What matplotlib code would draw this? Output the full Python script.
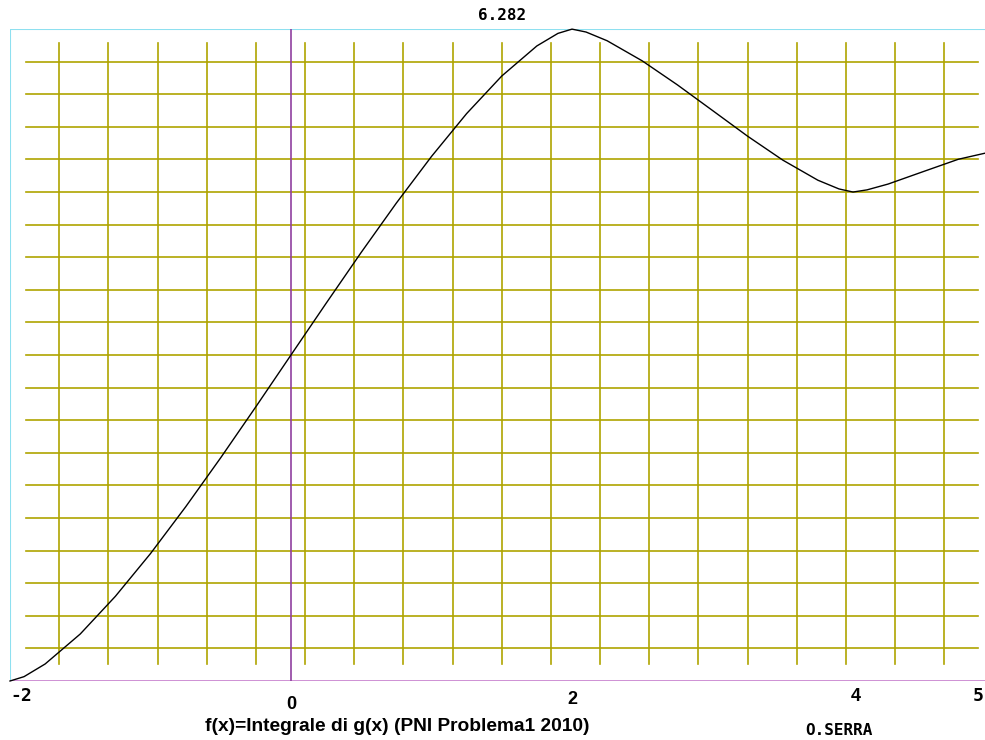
import matplotlib
matplotlib.use("Agg")
import matplotlib.pyplot as plt

# f(x), x from -2 to 5
xs = [-2, -1.9, -1.75, -1.5, -1.25, -1, -0.75, -0.5, -0.25, 0,
      0.25, 0.5, 0.75, 1, 1.25, 1.5, 1.75, 1.9, 2, 2.1,
      2.25, 2.5, 2.75, 3, 3.25, 3.5, 3.75, 3.9, 4, 4.1,
      4.25, 4.5, 4.75, 5]
ys = [0, 0.042, 0.164, 0.453, 0.816, 1.228, 1.678, 2.152, 2.643, 3.142,
      3.640, 4.131, 4.606, 5.055, 5.468, 5.830, 6.120, 6.241, 6.282, 6.254,
      6.170, 5.976, 5.745, 5.498, 5.250, 5.020, 4.826, 4.742, 4.712, 4.733,
      4.789, 4.909, 5.028, 5.105]

tick_vals = [-2, 0, 2, 4, 5]
tick_labels = ["-2", "0", "2", "4", "5"]
title = "f(x)=Integrale di g(x) (PNI Problema1 2010)"
author = "O.SERRA"

W, H = 985, 740
fig = plt.figure(figsize=(W / 100, H / 100), dpi=100)
ax = fig.add_axes([10 / W, 59 / H, 983.5 / W, 652 / H])
xmin, xmax = -2, 5
ymin, ymax = 0, 6.2832
ax.set_xlim(xmin, xmax)
ax.set_ylim(ymin, ymax)
ax.axis("off")

grid_col = "#afa400"
ndiv = 20
dx = (xmax - xmin) / ndiv
dy = (ymax - ymin) / ndiv
xin = 16 / 140.5
ytop_in = 14 / 103.8
ybot_in = 17 / 103.8
for k in range(1, ndiv):
    ax.plot([xmin + k * dx] * 2, [ymin + ybot_in, ymax - ytop_in],
            color=grid_col, lw=1.2, zorder=1)
    ax.plot([xmin + xin, xmax - xin], [ymin + k * dy] * 2,
            color=grid_col, lw=1.2, zorder=1)

# frame lines
ax.axhline(ymax, color="#8ee0f0", lw=1.5, zorder=2)
ax.axvline(xmin, color="#8ee0f0", lw=1.5, zorder=2)
ax.axhline(0, color="#c070c8", lw=1.8, zorder=2)
ax.axvline(0, color="#9040a0", lw=1.2, zorder=2)

ax.plot(xs, ys, color="black", lw=1.0, zorder=3, clip_on=False)

mono = ["DejaVu Sans Mono"]
narrow = ["Liberation Sans Narrow", "Liberation Sans", "DejaVu Sans"]
offsets = {"-2": (0, -6, "left", mono), "0": (0, -15, "center", narrow),
           "2": (0, -10, "center", narrow), "4": (3, -7, "center", narrow),
           "5": (-15, -6, "center", mono)}
for v, lab in zip(tick_vals, tick_labels):
    ox, oy, ha, fam = offsets[lab]
    ax.annotate(lab, xy=(v, 0), xycoords=("data", "axes fraction"),
                xytext=(ox, oy), textcoords="offset pixels",
                ha=ha, va="top", fontsize=13, fontweight="heavy",
                family=fam, annotation_clip=False)

peak = max(ys)
ax.annotate(f"{peak:.3f}", xy=(xs[ys.index(peak)], ymax),
            xytext=(-70, 13), textcoords="offset pixels",
            ha="center", va="center", fontsize=11.5, fontweight="bold",
            family=mono, annotation_clip=False)

fig.text(397 / W, (H - 731) / H, title, ha="center", va="baseline",
         fontsize=13.8, fontweight="bold", family=narrow)
fig.text(839 / W, (H - 723) / H, author, ha="center", va="top",
         fontsize=11.5, fontweight="bold", family=mono)

fig.savefig("out.png", dpi=100)
